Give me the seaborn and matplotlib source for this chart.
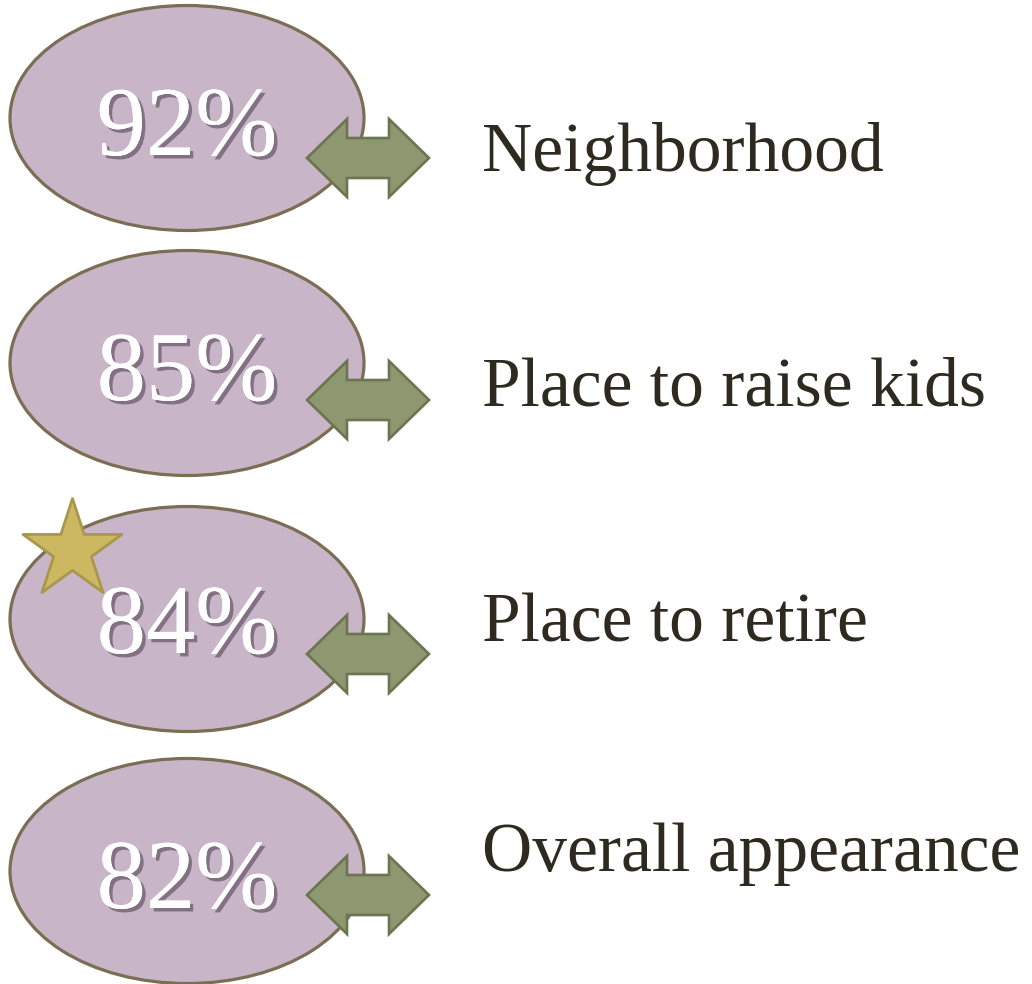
import matplotlib
matplotlib.use("Agg")
import matplotlib.pyplot as plt
import matplotlib.patheffects as pe
from matplotlib.patches import Ellipse, Polygon
import seaborn as sns
import pandas as pd

# ---- data ----
categories = ["Neighborhood", "Place to raise kids", "Place to retire", "Overall appearance"]
percent_values = [92, 85, 84, 82]
highlighted = [False, False, True, False]

# ---- layout (pixel space) ----
ellipse_cy = [118, 363, 619, 871]
arrow_cy = [158, 400, 654, 895]
pct_baseline = [155, 400, 653, 908]
label_baseline = [171, 405, 641, 871]
ellipse_cx, ellipse_w, ellipse_h = 187, 354, 225
arrow_x0, arrow_x1, head_len, head_half, shaft_half = 307, 429, 40, 39, 20
label_x = 482

ELL_FILL = "#C8B5C7"
ELL_EDGE = "#7A6E55"
ARR_FILL = "#8D9870"
ARR_EDGE = "#6C7451"
STAR_FILL = "#CDB862"
STAR_EDGE = "#A8974C"
TEXT_DARK = "#2E2A20"

sns.set_theme(style="white")
plt.rcParams["font.family"] = ["Liberation Serif", "DejaVu Serif"]

fig = plt.figure(figsize=(10.32, 9.84), dpi=100)
ax = fig.add_axes([0, 0, 1, 1])
ax.set_xlim(0, 1032)
ax.set_ylim(984, 0)
ax.axis("off")

df = pd.DataFrame({"category": categories, "value": percent_values,
                   "highlight": highlighted, "ey": ellipse_cy})

for i, row in df.iterrows():
    ax.add_patch(Ellipse((ellipse_cx, ellipse_cy[i]), ellipse_w, ellipse_h,
                         facecolor=ELL_FILL, edgecolor=ELL_EDGE, lw=2.3, zorder=1))
    yc = arrow_cy[i]
    x0, x1 = arrow_x0, arrow_x1
    pts = [(x0, yc), (x0 + head_len, yc - head_half), (x0 + head_len, yc - shaft_half),
           (x1 - head_len, yc - shaft_half), (x1 - head_len, yc - head_half), (x1, yc),
           (x1 - head_len, yc + head_half), (x1 - head_len, yc + shaft_half),
           (x0 + head_len, yc + shaft_half), (x0 + head_len, yc + head_half)]
    ax.add_patch(Polygon(pts, closed=True, facecolor=ARR_FILL, edgecolor=ARR_EDGE,
                         lw=1.9, joinstyle="miter", zorder=3))
    ax.text(ellipse_cx, pct_baseline[i], f"{row['value']}%", ha="center", va="baseline",
            fontsize=71, color="white", zorder=4,
            path_effects=[pe.withSimplePatchShadow(offset=(2.5, -2.5),
                                                   shadow_rgbFace="#4A3A4C", alpha=0.55),
                          pe.Normal()])
    ax.text(label_x, label_baseline[i], row["category"], ha="left", va="baseline",
            fontsize=50, color=TEXT_DARK, zorder=4)

star_df = df[df["highlight"]].copy()
star_df["sx"] = 72
star_df["sy"] = star_df["ey"] - 69
sns.scatterplot(data=star_df, x="sx", y="sy", marker="*", s=5600, color=STAR_FILL,
                edgecolor=STAR_EDGE, linewidth=2, ax=ax, zorder=5, legend=False)
ax.set_xlim(0, 1032)
ax.set_ylim(984, 0)
ax.axis("off")

fig.savefig("out.png", dpi=100, facecolor="white")
